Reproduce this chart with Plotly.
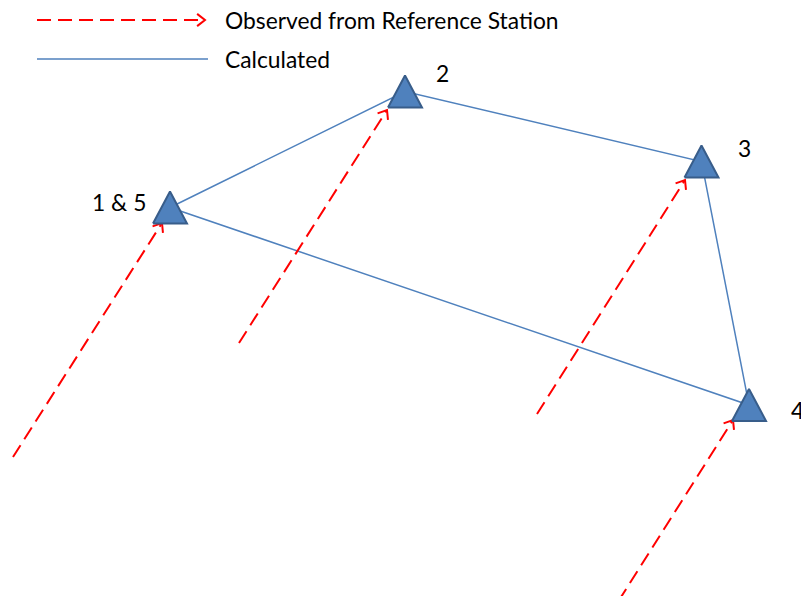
import numpy as np
import plotly.graph_objects as go

W, H = 801, 596

# Stations (pixel-like diagram coordinates, y grows downward)
station_labels = ["1 & 5", "2", "3", "4"]
station_x = [170, 405, 701.5, 749]
station_y = [207.5, 91.5, 161.5, 405]

# Label anchor positions
label_x = [119, 442, 744, 789]
label_y = [202, 72.5, 147.5, 409.5]
label_anchor = ["center", "center", "center", "left"]

# Calculated traverse: 1 -> 2 -> 3 -> 4 -> 5 (= 1)
calc_order = [0, 1, 2, 3, 0]

# Observed from reference station: tails and tips of dashed arrows
obs_tail_x = [13, 239, 537, 585]
obs_tail_y = [457, 343, 414, 654]
obs_tip_x = [162, 387, 685, 733]
obs_tip_y = [223, 110, 180, 420]

# Legend
legend_labels = ["Observed from Reference Station", "Calculated"]
legend_x0 = [37, 37]
legend_x1 = [205, 208]
legend_y = [20, 59]
legend_text_x = 223

RED = "#FF0000"
BLUE = "#4F81BD"
BLUE_DARK = "#385D8A"
FONT = "Lato"
FS = 22.8

TRI_W, TRI_H = 34, 32
HEAD_LEN, HEAD_ANG = 10, np.deg2rad(38)


def chevron(tx, ty, sx, sy):
    d = np.array([tx - sx, ty - sy], float)
    u = d / np.linalg.norm(d)
    pts = []
    for s in (1, -1):
        c, si = np.cos(s * HEAD_ANG), np.sin(s * HEAD_ANG)
        r = np.array([c * u[0] - si * u[1], si * u[0] + c * u[1]])
        pts.append((tx - HEAD_LEN * r[0], ty - HEAD_LEN * r[1]))
    return [pts[0][0], tx, pts[1][0]], [pts[0][1], ty, pts[1][1]]


fig = go.Figure()

# Calculated traverse
fig.add_trace(go.Scatter(
    x=[station_x[i] for i in calc_order],
    y=[station_y[i] for i in calc_order],
    mode="lines", line=dict(color=BLUE, width=1.5), hoverinfo="skip"))

# Observed dashed arrows
dx, dy, hx, hy = [], [], [], []
for sx, sy, tx, ty in zip(obs_tail_x, obs_tail_y, obs_tip_x, obs_tip_y):
    dx += [sx, tx, None]
    dy += [sy, ty, None]
    cx, cy = chevron(tx, ty, sx, sy)
    hx += cx + [None]
    hy += cy + [None]
fig.add_trace(go.Scatter(x=dx, y=dy, mode="lines",
                         line=dict(color=RED, width=2, dash="14px,7px"), hoverinfo="skip"))
fig.add_trace(go.Scatter(x=hx, y=hy, mode="lines",
                         line=dict(color=RED, width=2), hoverinfo="skip"))

# Station triangles
tx_, ty_ = [], []
for cx, cy in zip(station_x, station_y):
    tx_ += [cx - TRI_W / 2, cx, cx + TRI_W / 2, cx - TRI_W / 2, None]
    ty_ += [cy + TRI_H / 2, cy - TRI_H / 2, cy + TRI_H / 2, cy + TRI_H / 2, None]
fig.add_trace(go.Scatter(x=tx_, y=ty_, mode="lines", fill="toself",
                         fillcolor=BLUE, line=dict(color=BLUE_DARK, width=2), hoverinfo="skip"))

# Station labels
for t, x, y, a in zip(station_labels, label_x, label_y, label_anchor):
    fig.add_annotation(x=x, y=y, text=t, showarrow=False, xanchor=a, yanchor="middle",
                       font=dict(family=FONT, size=FS, color="black"))

# Legend samples
fig.add_trace(go.Scatter(x=[legend_x0[0], legend_x1[0]], y=[legend_y[0], legend_y[0]], mode="lines",
                         line=dict(color=RED, width=2, dash="14px,7px"), hoverinfo="skip"))
cx, cy = chevron(legend_x1[0], legend_y[0], legend_x0[0], legend_y[0])
fig.add_trace(go.Scatter(x=cx, y=cy, mode="lines", line=dict(color=RED, width=2), hoverinfo="skip"))
fig.add_trace(go.Scatter(x=[legend_x0[1], legend_x1[1]], y=[legend_y[1], legend_y[1]], mode="lines",
                         line=dict(color=BLUE, width=1.5), hoverinfo="skip"))
for t, y in zip(legend_labels, legend_y):
    fig.add_annotation(x=legend_text_x, y=y, text=t, showarrow=False, xanchor="left", yanchor="middle",
                       font=dict(family=FONT, size=FS, color="black"))

fig.update_layout(
    width=W, height=H, margin=dict(l=0, r=0, t=0, b=0),
    paper_bgcolor="white", plot_bgcolor="white", showlegend=False,
    xaxis=dict(range=[0, W], visible=False, fixedrange=True),
    yaxis=dict(range=[H, 0], visible=False, fixedrange=True),
)

fig.write_html("out.html", config={"displayModeBar": False},
               post_script="document.body.style.margin='0';document.body.style.overflow='hidden';")
